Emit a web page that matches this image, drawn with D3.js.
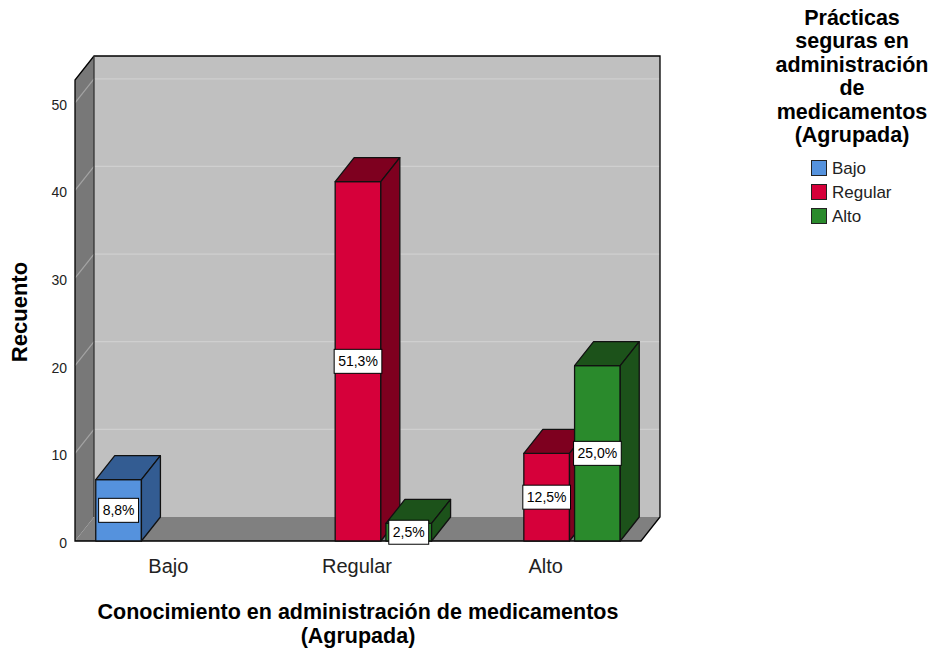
<!DOCTYPE html>
<html>
<head>
<meta charset="utf-8">
<script src="https://cdn.jsdelivr.net/npm/d3@7"></script>
<style>
  body { margin: 0; background: #ffffff; }
  text { font-family: Arial, "Liberation Sans", sans-serif; }
</style>
</head>
<body>
<div id="chart"></div>
<script>
// categories on the x axis (Conocimiento)
var categories = ["Bajo", "Regular", "Alto"];
// legend series (Prácticas seguras)
var seriesNames = ["Bajo", "Regular", "Alto"];
// counts per category, one value per series
var countsBajo = [7, 0, 0];
var countsRegular = [0, 41, 2];
var countsAlto = [0, 10, 20];
var yTicks = [0, 10, 20, 30, 40, 50];

var counts = [countsBajo, countsRegular, countsAlto];
var total = d3.sum(counts, function(r){ return d3.sum(r); });

// colors: front face / dark side
var frontColors = ["#5592dd", "#d6003a", "#2a8a2c"];
var sideColors = ["#335c92", "#7e001f", "#1c521a"];

var W = 931, H = 651;
var svg = d3.select("#chart").append("svg").attr("width", W).attr("height", H);

// 3d frame
var x0 = 75, x1 = 641, yBase = 541, yTopFront = 80;
var ddx = 19, ddy = -24;   // depth offset

var yScale = d3.scaleLinear().domain([0, 52.6]).range([yBase, yTopFront]);
var xScale = d3.scaleBand().domain(categories).range([x0, x1]).paddingInner(0.22).paddingOuter(0.11);
var xInner = d3.scaleBand().domain(seriesNames).range([0, xScale.bandwidth()]).paddingInner(0.1);

function poly(pts){ return "M" + pts.map(function(p){ return p[0] + "," + p[1]; }).join("L") + "Z"; }

// back wall
svg.append("path")
    .attr("d", poly([[x0+ddx, yTopFront+ddy], [x1+ddx, yTopFront+ddy], [x1+ddx, yBase+ddy], [x0+ddx, yBase+ddy]]))
    .attr("fill", "#c0c0c0");
// left wall
svg.append("path")
    .attr("d", poly([[x0, yTopFront], [x0+ddx, yTopFront+ddy], [x0+ddx, yBase+ddy], [x0, yBase]]))
    .attr("fill", "#787878");
// floor
svg.append("path")
    .attr("d", poly([[x0, yBase], [x0+ddx, yBase+ddy], [x1+ddx, yBase+ddy], [x1, yBase]]))
    .attr("fill", "#808080");

// gridlines
var grid = svg.append("g");
yTicks.filter(function(t){ return t > 0; }).forEach(function(t){
    var y = yScale(t);
    grid.append("line")
        .attr("x1", x0+ddx).attr("x2", x1+ddx)
        .attr("y1", y+ddy).attr("y2", y+ddy)
        .attr("stroke", "#cfcfcf").attr("stroke-width", 1.2);
    grid.append("line")
        .attr("x1", x0).attr("x2", x0+ddx)
        .attr("y1", y).attr("y2", y+ddy)
        .attr("stroke", "#a4a4a4").attr("stroke-width", 1.2);
});

// frame outline
var outline = svg.append("g").attr("fill", "none").attr("stroke", "#000").attr("stroke-width", 1.3);
outline.append("path").attr("d", "M" + x0 + "," + yBase + "L" + x0 + "," + yTopFront +
    "L" + (x0+ddx) + "," + (yTopFront+ddy) + "L" + (x1+ddx) + "," + (yTopFront+ddy) +
    "L" + (x1+ddx) + "," + (yBase+ddy) + "L" + x1 + "," + yBase + "Z");
outline.append("line").attr("x1", x0+ddx).attr("x2", x0+ddx)
    .attr("y1", yTopFront+ddy).attr("y2", yBase+ddy).attr("stroke", "#333");

// y tick labels
svg.append("g").selectAll("text").data(yTicks).enter().append("text")
    .attr("x", 67).attr("y", function(d){ return yScale(d) + 7; })
    .attr("text-anchor", "end").attr("font-size", "14px").attr("fill", "#222")
    .text(function(d){ return d; });

// bars
var bars = [];
categories.forEach(function(c, ci){
    seriesNames.forEach(function(s, si){
        var v = counts[ci][si];
        if (v > 0) bars.push({cat: c, ser: s, si: si, value: v});
    });
});

var gBars = svg.append("g");
bars.forEach(function(b){
    var bx0 = xScale(b.cat) + xInner(b.ser);
    var bx1 = bx0 + xInner.bandwidth();
    var by = yScale(b.value);
    var g = gBars.append("g").attr("stroke", "#111").attr("stroke-width", 1.3).attr("stroke-linejoin", "round");
    g.append("path").attr("d", poly([[bx0, by], [bx1, by], [bx1, yBase], [bx0, yBase]]))
        .attr("fill", frontColors[b.si]);
    g.append("path").attr("d", poly([[bx0, by], [bx0+ddx, by+ddy], [bx1+ddx, by+ddy], [bx1, by]]))
        .attr("fill", sideColors[b.si]);
    g.append("path").attr("d", poly([[bx1, by], [bx1+ddx, by+ddy], [bx1+ddx, yBase+ddy], [bx1, yBase]]))
        .attr("fill", sideColors[b.si]);
    b.cx = (bx0 + bx1) / 2;
    b.cy = (by + yBase) / 2;
});

// value labels
bars.forEach(function(b){
    var pct = Math.round(b.value * 1000 / total) / 10;
    var lbl = pct.toFixed(1).replace(".", ",") + "%";
    var g = svg.append("g");
    var t = g.append("text")
        .attr("x", b.cx).attr("y", b.cy + 5)
        .attr("text-anchor", "middle").attr("font-size", "14px").attr("fill", "#000")
        .text(lbl);
    var w = t.node().getComputedTextLength() + 8;
    g.insert("rect", "text")
        .attr("x", b.cx - w/2).attr("y", b.cy - 12)
        .attr("width", w).attr("height", 24)
        .attr("fill", "#fff").attr("stroke", "#000").attr("stroke-width", 1);
});

// x category labels
svg.append("g").selectAll("text").data(categories).enter().append("text")
    .attr("x", function(d){ return xScale(d) + xScale.bandwidth()/2 - 1; })
    .attr("y", 573).attr("text-anchor", "middle").attr("font-size", "20px").attr("fill", "#222")
    .text(function(d){ return d; });

// axis titles
svg.append("text").attr("x", 358).attr("y", 619).attr("text-anchor", "middle")
    .attr("font-size", "21.5px").attr("font-weight", "bold")
    .text("Conocimiento en administración de medicamentos");
svg.append("text").attr("x", 358).attr("y", 643).attr("text-anchor", "middle")
    .attr("font-size", "21.5px").attr("font-weight", "bold")
    .text("(Agrupada)");
svg.append("text").attr("transform", "translate(27,312) rotate(-90)")
    .attr("text-anchor", "middle").attr("font-size", "22px").attr("font-weight", "bold")
    .text("Recuento");

// legend
var legendTitle = ["Prácticas", "seguras en", "administración", "de", "medicamentos", "(Agrupada)"];
svg.append("g").selectAll("text").data(legendTitle).enter().append("text")
    .attr("x", 852).attr("y", function(d, i){ return 25 + i * 23.4; })
    .attr("text-anchor", "middle").attr("font-size", "21.5px").attr("font-weight", "bold")
    .text(function(d){ return d; });

var leg = svg.append("g").selectAll("g").data(seriesNames).enter().append("g")
    .attr("transform", function(d, i){ return "translate(811," + (160 + i * 24) + ")"; });
leg.append("rect").attr("x", 0.5).attr("y", 0.5).attr("width", 15).attr("height", 15)
    .attr("fill", function(d, i){ return frontColors[i]; })
    .attr("stroke", "#222").attr("stroke-width", 1);
leg.append("text").attr("x", 21).attr("y", 14).attr("font-size", "17px").attr("fill", "#222")
    .text(function(d){ return d; });
</script>
</body>
</html>
